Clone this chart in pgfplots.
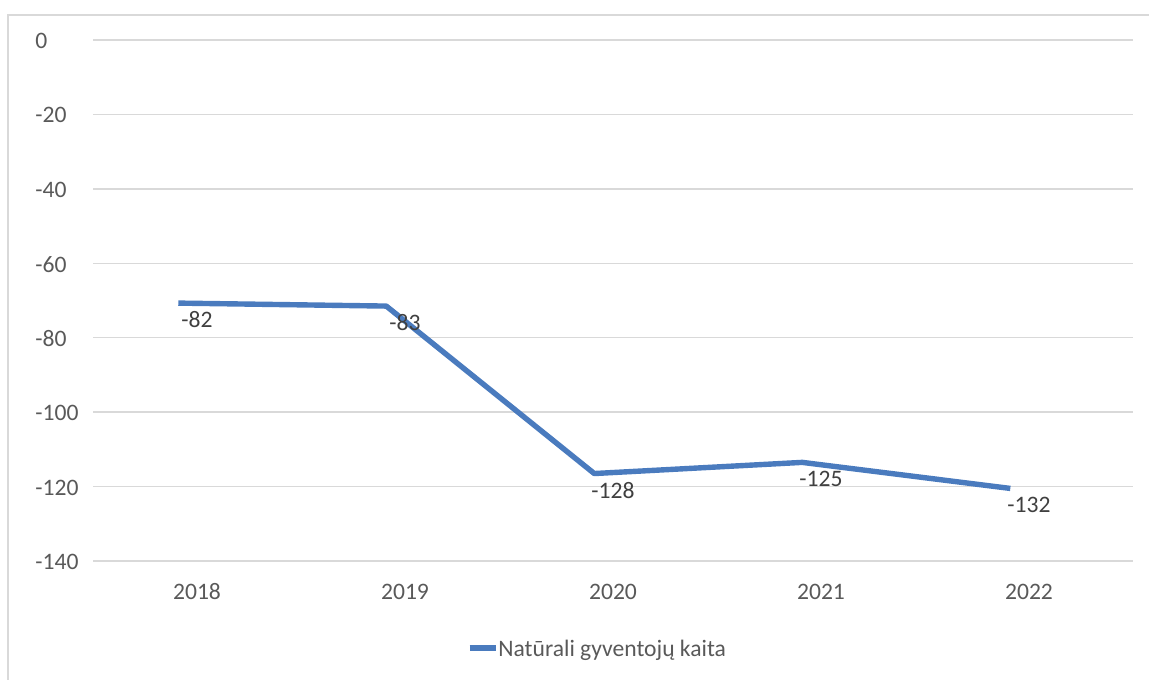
\documentclass[border=0pt]{standalone}
\usepackage{fontspec}
\setmainfont{Carlito}
\usepackage{pgfplots}
\pgfplotsset{compat=1.18}
\definecolor{linecol}{HTML}{4A7BBE}
\definecolor{gridcol}{HTML}{D9D9D9}
\definecolor{tickcol}{HTML}{595959}
\definecolor{labcol}{HTML}{404040}
\begin{document}
\fontsize{11.8pt}{14pt}\selectfont
\begin{tikzpicture}
\useasboundingbox (0,0) rectangle (574.5pt,339.5pt);
\draw[gridcol, line width=0.75pt] (4pt,-10pt) -- (4pt,332pt) -- (590pt,332pt);
\begin{axis}[
  at={(46.5pt,59pt)}, anchor=south west,
  scale only axis, width=520pt, height=260.5pt,
  xmin=-0.5, xmax=4.5, ymin=-140, ymax=0,
  xtick={0,1,2,3,4},
  xticklabels={2018,2019,2020,2021,2022},
  ytick={-140,-120,-100,-80,-60,-40,-20,0},
  yticklabels={-140,-120,-100,-80,-60,-40,-20,0},
  axis line style={draw=none},
  major tick length=0pt,
  ymajorgrids,
  grid style={gridcol, line width=0.75pt},
  tick label style={font=\fontsize{11.8pt}{14pt}\selectfont, text=tickcol},
  xticklabel style={anchor=base, yshift=-19.5pt},
  yticklabel style={anchor=west, inner sep=0pt, xshift=-29pt, yshift=-0.5pt},
  legend style={at={(0.3596,-0.171)}, anchor=west, draw=none, fill=none,
    inner sep=0pt, outer sep=0pt,
    nodes={inner sep=0pt, text=tickcol, font=\fontsize{11.8pt}{14pt}\selectfont},
    /tikz/every even column/.append style={column sep=2pt}},
  legend image code/.code={\draw[#1] (0pt,0.2ex) -- (13pt,0.2ex);},
  clip=false,
]
\addplot[linecol, line width=2.7pt, line join=round] coordinates {
  (-0.09,-70.7) (0.91,-71.5) (1.91,-116.5) (2.91,-113.5) (3.91,-120.5)
};
\addlegendentry{Natūrali gyventojų kaita}
\addplot[draw=none, forget plot, nodes near coords, point meta=explicit symbolic,
  every node near coord/.style={anchor=center, yshift=13pt, inner sep=0pt, text=labcol,
    font=\fontsize{11.8pt}{14pt}\selectfont}] coordinates {
  (0,-82) [-82]
  (1,-83) [-83]
  (2,-128) [-128]
  (3,-125) [-125]
  (4,-132) [-132]
};
\end{axis}
\end{tikzpicture}
\end{document}
